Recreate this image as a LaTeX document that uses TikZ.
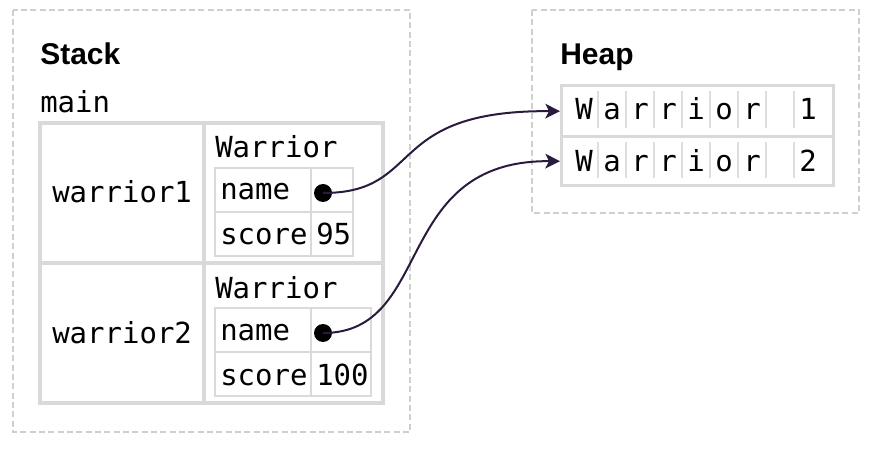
\documentclass[tikz,border=0pt]{standalone}
\usepackage{fontspec}
\setmainfont{Liberation Sans}
\newfontfamily\monof{DejaVu Sans Mono}
\usetikzlibrary{arrows.meta}
\definecolor{tblgray}{HTML}{D9D9D9}
\definecolor{cellgray}{HTML}{DEDEDE}
\definecolor{dashgray}{HTML}{CFCFCF}
\definecolor{ptrcol}{HTML}{2A1B3E}
\tikzset{
  region/.style={draw=dashgray, line width=1pt, dash pattern=on 4.5pt off 2.5pt},
  tbl/.style={draw=tblgray, line width=2.6pt},
  subtbl/.style={draw=tblgray, line width=1.5pt},
  cellsep/.style={draw=cellgray, line width=1.1pt},
  title/.style={font=\bfseries\fontsize{22.5}{26}\selectfont, anchor=base west, inner sep=0pt},
  mono/.style={font=\monof\fontsize{21.75}{25}\selectfont, anchor=base west, inner sep=0pt},
  chr/.style={font=\monof\fontsize{21.75}{25}\selectfont, anchor=base, inner sep=0pt},
  dotnode/.style={circle, fill=black, inner sep=0pt, minimum size=13.5pt},
  heaprow/.style={tbl, anchor=north west, minimum width=204pt, inner sep=0pt},
  ptr/.style={draw=ptrcol, line width=1.5pt, -{Stealth[length=11pt,width=11pt,inset=2.8pt]}}
}
\begin{document}
\begin{tikzpicture}[x=0.75pt, y=-0.75pt]
\useasboundingbox (0,0) rectangle (892,452);
% regions
\draw[region] (13,10) rectangle (410,432);
\draw[region] (532,10) rectangle (859,213);
\node[title] (stacklbl) at (40,65) {Stack};
\node[title] (heaplbl) at (560,65) {Heap};
\node[mono] (mainlbl) at (40,113) {main};
% main frame table
\draw[tbl] (40,123) rectangle (383,403);
\draw[tbl] (40,263) -- (383,263);
\draw[tbl] (204,123) -- (204,403);
\node[mono] (w1lbl) at (52,203) {warrior1};
\node[mono] (w2lbl) at (52,343) {warrior2};
% warrior1 struct
\node[mono] (t1) at (215,158) {Warrior};
\draw[subtbl] (215,168) rectangle (353,256);
\draw[subtbl] (215,212) -- (353,212);
\draw[subtbl] (311,168) -- (311,256);
\node[mono] (n1) at (220,200) {name};
\node[mono] (s1) at (220,245) {score};
\node[mono] (v1) at (316,245) {95};
% warrior2 struct
\node[mono] (t2) at (215,298) {Warrior};
\draw[subtbl] (215,308) rectangle (371,396);
\draw[subtbl] (215,352) -- (371,352);
\draw[subtbl] (311,308) -- (311,396);
\node[mono] (n2) at (220,340) {name};
\node[mono] (s2) at (220,385) {score};
\node[mono] (v2) at (316,385) {100};
% heap
\node[heaprow, minimum height=38.25pt] (h1) at (560,84) {};
\node[heaprow, minimum height=36.75pt] (h2) at (560,135) {};
\foreach \i in {0,...,7} {
  \draw[cellsep] ({598+28*\i},91) -- ({598+28*\i},128);
  \draw[cellsep] ({598+28*\i},142) -- ({598+28*\i},178);
}
\foreach \c [count=\k from 0] in {W,a,r,r,i,o,r,{},1} {
  \node[chr] (ha\k) at ({584+28*\k},120) {\c};
}
\foreach \c [count=\k from 0] in {W,a,r,r,i,o,r,{},2} {
  \node[chr] (hb\k) at ({584+28*\k},172) {\c};
}
% pointers
\node[dotnode] (d1) at (323,193) {};
\node[dotnode] (d2) at (323,333) {};
\draw[ptr] (d1.center) .. controls (425,193) and (383,110) .. (h1.west);
\draw[ptr] (d2.center) .. controls (435,333) and (391,160) .. (h2.west);
\end{tikzpicture}
\end{document}
